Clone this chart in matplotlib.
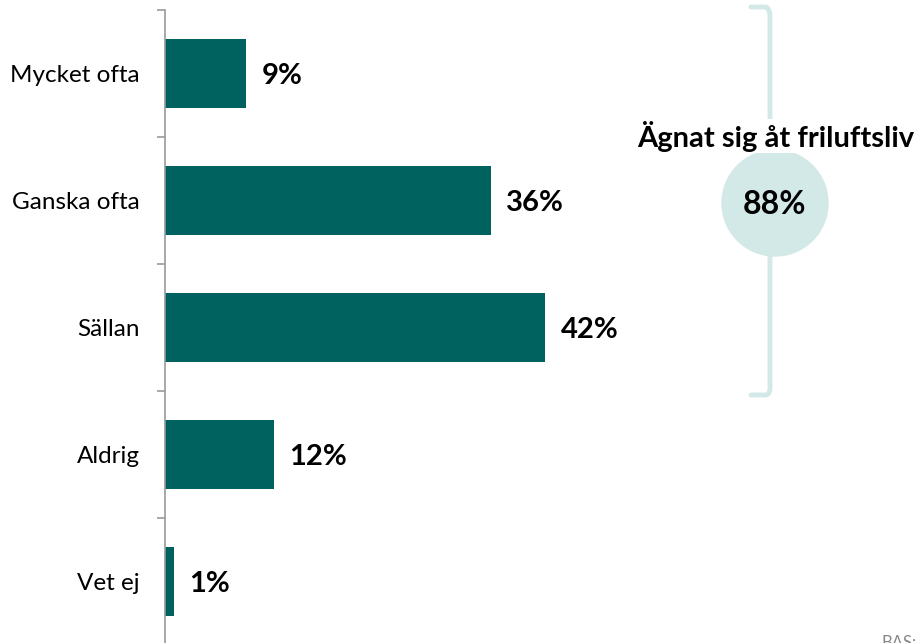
import numpy as np
import matplotlib.pyplot as plt
from matplotlib.path import Path
from matplotlib.patches import PathPatch, Circle

plt.rcParams['font.family'] = ['Lato', 'DejaVu Sans']

categories = ['Mycket ofta', 'Ganska ofta', 'Sällan', 'Aldrig', 'Vet ej']
values = [9, 36, 42, 12, 1]
total_label = '88%'
total_title = 'Ägnat sig åt friluftsliv'

bar_color = '#00625f'
light = '#d3e9e7'

W, H = 920, 643
fig = plt.figure(figsize=(W / 100, H / 100), dpi=100)

# main bar axes (pixel layout)
left, top, bottom = 165, 10, 645
ax = fig.add_axes([left / W, (H - bottom) / H, 1 - left / W, (bottom - top) / H])
y = np.arange(len(categories))
ax.barh(y, values, height=0.55, color=bar_color)
ax.set_ylim(len(categories) - 0.5, -0.5)
ax.set_xlim(0, (W - left) / 9.05)

ax.set_yticks(y)
ax.set_yticklabels(categories, fontsize=17.5)
ax.tick_params(axis='y', which='major', length=0, pad=18)
ax.set_yticks(np.arange(len(categories) + 1) - 0.5, minor=True)
ax.tick_params(axis='y', which='minor', length=6, width=1.2, color='#999999', direction='out')
ax.set_xticks([])
for s in ['top', 'right', 'bottom']:
    ax.spines[s].set_visible(False)
ax.spines['left'].set_color('#999999')
ax.spines['left'].set_linewidth(1.2)

for yi, v in zip(y, values):
    ax.annotate(f'{v}%', (v, yi), xytext=(11, -2), textcoords='offset points',
                va='center', ha='left', fontsize=21, fontweight='bold')

# overlay in pixel coordinates for the bracket and circle
ov = fig.add_axes([0, 0, 1, 1])
ov.set_xlim(0, W)
ov.set_ylim(H, 0)
ov.axis('off')

bx = 770
verts = [(751, 7), (766, 7), (bx, 9), (bx, 17), (bx, 388), (bx, 394), (766, 395), (751, 395)]
codes = [Path.MOVETO, Path.LINETO, Path.CURVE3, Path.CURVE3, Path.LINETO,
         Path.CURVE3, Path.CURVE3, Path.LINETO]
ov.add_patch(PathPatch(Path(verts, codes), fill=False, edgecolor=light, lw=3.5,
                       capstyle='round'))
ov.add_patch(Circle((775, 203), 53, color=light, zorder=3))
ov.text(775, 205, total_label, ha='center', va='center', fontsize=23,
        fontweight='bold', zorder=4)
ov.text(776, 136, total_title, ha='center', va='center', fontsize=21,
        fontweight='bold', zorder=4,
        bbox=dict(facecolor='white', edgecolor='none', pad=1))
ov.text(882, 635, 'BAS:', ha='left', va='top', fontsize=12, color='#888888')

fig.savefig('out.png', dpi=100)
